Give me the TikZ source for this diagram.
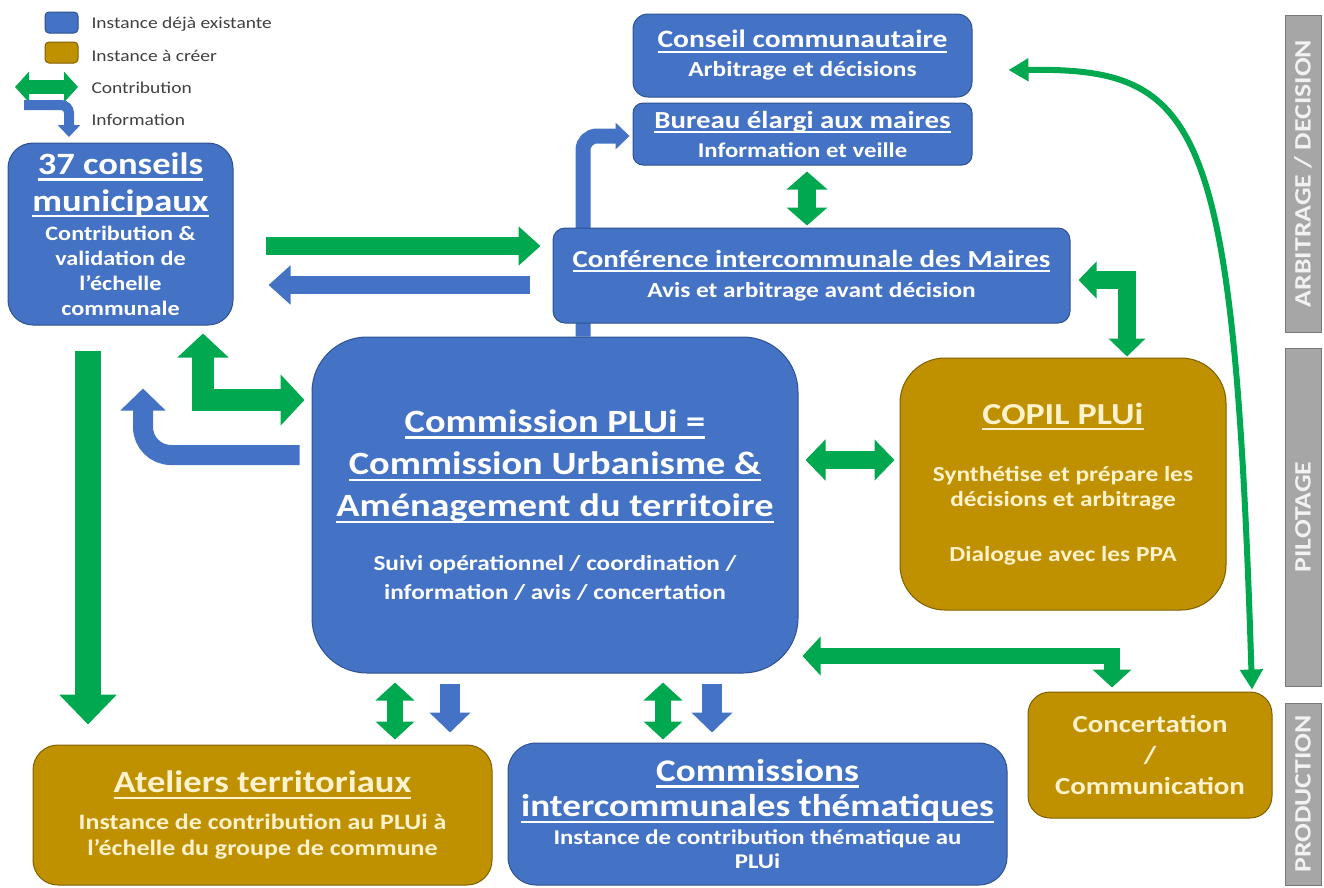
\documentclass[tikz,border=0pt]{standalone}
\usepackage{fontspec}
\setmainfont{Carlito}[FakeStretch=1.18]
\usetikzlibrary{arrows.meta,calc}
\pgfdeclarelayer{background}
\pgfsetlayers{background,main}

\definecolor{instblue}{RGB}{68,114,196}
\definecolor{blueedge}{RGB}{47,82,143}
\definecolor{instgold}{RGB}{191,144,0}
\definecolor{goldedge}{RGB}{127,96,0}
\definecolor{goldtext}{RGB}{255,242,204}
\definecolor{contribgreen}{RGB}{0,168,80}
\definecolor{bargray}{RGB}{166,166,166}
\definecolor{baredge}{RGB}{120,120,120}
\definecolor{bartext}{RGB}{242,242,242}
\definecolor{legendtext}{RGB}{64,64,64}

\newcommand{\fs}[2]{\fontsize{#1}{#2}\selectfont}
\newcommand{\ttl}[1]{\leavevmode\setbox0=\hbox{#1}\rlap{\rule[-0.2em]{\wd0}{0.07em}}\box0}

\begin{document}
\begin{tikzpicture}[x=1pt,y=-1pt,
    box/.style={rounded corners=#1, align=center, inner sep=0pt, line width=1pt, font=\bfseries},
    existing/.style={box=#1, draw=blueedge, fill=instblue, text=white},
    tocreate/.style={box=#1, draw=goldedge, fill=instgold, text=goldtext},
    bar/.style={draw=baredge, fill=bargray, text=bartext, rotate=90, inner sep=0pt,
      minimum height=36, font=\bfseries\fs{23.5}{24}},
    legend/.style={anchor=west, text=legendtext, font=\fs{16.5}{17}},
    gone/.style n args={3}{draw=contribgreen, line width=#1, -{Triangle[length=#2,width=#3]}},
    gboth/.style n args={3}{draw=contribgreen, line width=#1,
      {Triangle[length=#2,width=#3]}-{Triangle[length=#2,width=#3]}},
    bone/.style n args={3}{draw=instblue, line width=#1, -{Triangle[length=#2,width=#3]}}]
  \useasboundingbox (0,0) rectangle (1324,887);

  % legend
  \node[existing=4, minimum width=33, minimum height=21] (legblue) at (61.5,22.5) {};
  \node[tocreate=4, minimum width=33, minimum height=21] (leggold) at (61.5,52.5) {};
  \node[legend] (legbluetxt) at (88,24) {Instance déjà existante};
  \node[legend] (leggoldtxt) at (88,56) {Instance à créer};
  \node[legend] (legcontrib) at (88,88) {Contribution};
  \node[legend] (leginfo) at (88,120) {Information};
  \coordinate (legarrowa) at (15,87);
  \coordinate (legarrowb) at (78,87);
  \coordinate (legbenda) at (24,105);
  \coordinate (legbendb) at (69,137);
  \draw[gboth={14}{14}{30}] (legarrowa) -- (legarrowb);
  \draw[bone={10}{12}{22}, rounded corners=8] (legbenda) -| (legbendb);

  % arbitrage / decision
  \node[existing=15, minimum width=339, minimum height=83, font=\bfseries\fs{21.5}{29}] (cc) at (802.5,55.5)
    {{\fs{25}{29}\ttl{Conseil communautaire}}\\ Arbitrage et décisions};
  \node[existing=10, minimum width=339, minimum height=62, font=\bfseries\fs{21}{29}] (bureau) at (802.5,134)
    {{\fs{24.5}{29}\ttl{Bureau élargi aux maires}}\\ Information et veille};
  \node[existing=12, minimum width=517, minimum height=95, font=\bfseries\fs{21.5}{30}] (conf) at (811.5,275.5)
    {{\fs{24.5}{30}\ttl{Conférence intercommunale des Maires}}\\ Avis et arbitrage avant décision};

  % pilotage
  \node[existing=25, minimum width=225, minimum height=182, font=\bfseries\fs{20.5}{25}] (conseils) at (120.5,234)
    {{\fs{31}{36}\ttl{37 conseils}}\\[8pt] {\fs{31}{36}\ttl{municipaux}}\\[4pt]
     Contribution \&\\ validation de\\ l’échelle\\ communale};
  \node[existing=55, minimum width=486, minimum height=336, font=\bfseries\fs{21.4}{29}] (plui) at (555,505)
    {{\fs{32.5}{42}\ttl{Commission PLUi =}}\\[12pt] {\fs{32.5}{42}\ttl{Commission Urbanisme \&}}\\[12pt]
     {\fs{32.5}{42}\ttl{Aménagement du territoire}}\\[25pt]
     Suivi opérationnel / coordination /\\ information / avis / concertation};
  \node[tocreate=45, minimum width=326, minimum height=252, font=\bfseries\fs{21.5}{25}] (copil) at (1063,484)
    {{\fs{30.5}{34}\ttl{COPIL PLUi}}\\[32pt] Synthétise et prépare les\\ décisions et arbitrage\\[30pt]
     Dialogue avec les PPA};

  % production
  \node[tocreate=22, minimum width=244, minimum height=126, font=\bfseries\fs{24.5}{31}] (concert) at (1150,755)
    {Concertation\\ /\\ Communication};
  \node[tocreate=25, minimum width=459, minimum height=140, font=\bfseries\fs{22}{26}] (ateliers) at (262.5,815)
    {{\fs{31}{34}\ttl{Ateliers territoriaux}}\\[11pt] Instance de contribution au PLUi à\\ l’échelle du groupe de commune};
  \node[existing=28, minimum width=499, minimum height=142, font=\bfseries\fs{21}{24}] (cit) at (757.5,814)
    {{\fs{31.5}{34}\ttl{Commissions}}\\[6pt] {\fs{31.5}{34}\ttl{intercommunales thématiques}}\\[4pt]
     Instance de contribution thématique au\\ PLUi};

  % side bars
  \node[bar, minimum width=317] (arbitrage) at (1303,173.5) {ARBITRAGE / DECISION};
  \node[bar, minimum width=338] (pilotage) at (1303,517) {PILOTAGE};
  \node[bar, minimum width=182] (production) at (1303,794) {PRODUCTION};

  % information going up to the bureau, behind the boxes
  \begin{pgfonlayer}{background}
    \draw[bone={15}{14}{26}, rounded corners=14] ($(plui.north)+(28,0)$) |- ($(bureau.west)+(-3,2)$);
  \end{pgfonlayer}

  % arrows
  \draw[gone={18}{22}{38}] ($(conseils.east)+(32,12)$) -- ($(conf.west)+(-12,-29.5)$);
  \draw[bone={18}{22}{38}] ($(conf.west)+(-23,9.5)$) -- ($(conseils.east)+(35,51)$);
  \draw[gboth={22}{24}{50}] ($(conseils.south)+(82.5,8)$) |- ($(plui.west)+(-7,-105)$);
  \draw[bone={20}{22}{44}, rounded corners=28] ($(plui.west)+(-12,-50)$) -| ($(conseils.south)+(22.5,63)$);
  \draw[gone={26}{30}{56}] ($(conseils.south)+(-32.5,25)$) -- ($(ateliers.north)+(-174.5,-20)$);
  \draw[gboth={18}{18}{40}] ($(bureau.south)+(4.5,6)$) -- ($(conf.north)+(-4.5,-2)$);
  \draw[gboth={18}{18}{36}] ($(conf.east)+(8,4.5)$) -| ($(copil.north)+(64,-1)$);
  \draw[gboth={18}{20}{40}] ($(plui.east)+(7,-45)$) -- ($(copil.west)+(-5,-24)$);
  \draw[gboth={16}{18}{38}] ($(plui.east)+(4,151)$) -| ($(concert.north)+(-38,-4)$);
  \draw[gboth={16}{18}{38}] ($(plui.south)+(-160,9)$) -- ($(ateliers.north)+(132.5,-5)$);
  \draw[bone={20}{20}{40}] ($(plui.south)+(-105,10)$) -- ($(ateliers.north)+(187.5,-12)$);
  \draw[gboth={16}{18}{38}] ($(plui.south)+(108,9)$) -- ($(cit.north)+(-94.5,-3)$);
  \draw[bone={20}{20}{40}] ($(plui.south)+(157,10)$) -- ($(cit.north)+(-45.5,-10)$);
  \draw[gboth={6}{20}{22}] ($(cc.east)+(36,14.5)$) .. controls (1200,68) and (1234,115) .. ($(concert.north)+(102,-2)$);
\end{tikzpicture}
\end{document}
